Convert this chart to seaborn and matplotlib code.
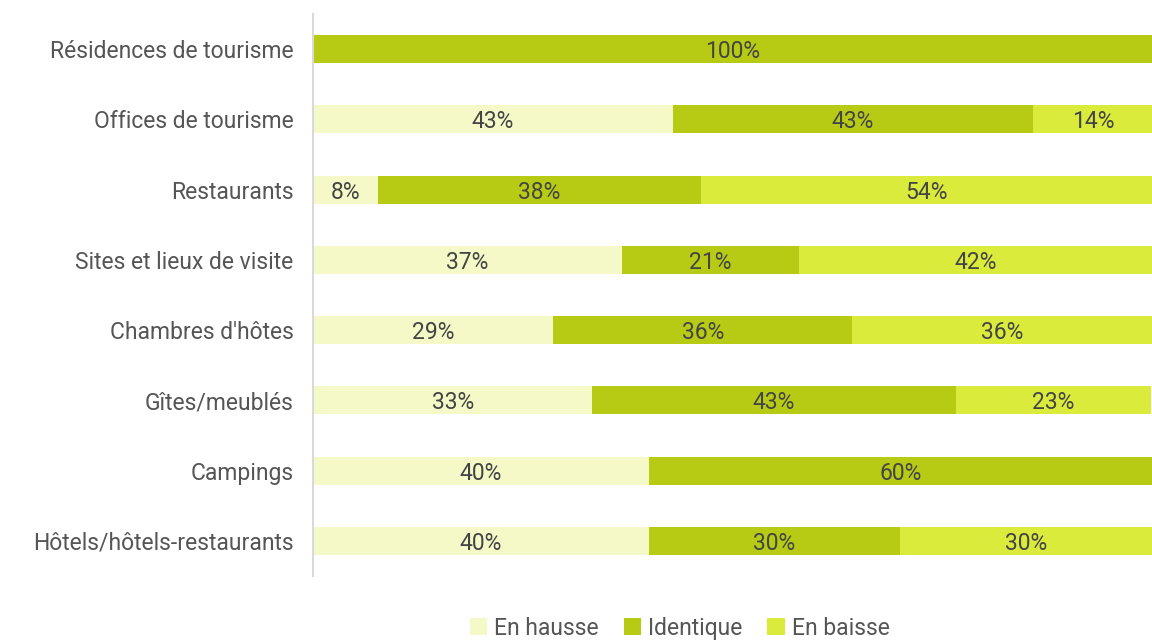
import numpy as np
import pandas as pd
import matplotlib
matplotlib.use("Agg")
import matplotlib.pyplot as plt
import seaborn as sns
from matplotlib.patches import Patch

# Data (percentages, top to bottom)
categories = ["Résidences de tourisme", "Offices de tourisme", "Restaurants",
              "Sites et lieux de visite", "Chambres d'hôtes", "Gîtes/meublés",
              "Campings", "Hôtels/hôtels-restaurants"]
en_hausse = [0, 42.9, 7.7, 36.8, 28.6, 33.3, 40, 40]
identique = [100, 42.9, 38.5, 21.1, 35.7, 43.3, 60, 30]
en_baisse = [0, 14.3, 53.8, 42.1, 35.7, 23.3, 0, 30]
series = ["En hausse", "Identique", "En baisse"]
colors = ["#f5f9c8", "#b8cb14", "#dbeb3b"]

df = pd.DataFrame({"cat": categories, "En hausse": en_hausse,
                   "Identique": identique, "En baisse": en_baisse})
df["c1"] = df["En hausse"]
df["c2"] = df["c1"] + df["Identique"]
df["c3"] = df["c2"] + df["En baisse"]

sns.set_style("white")
plt.rcParams["font.family"] = ["Roboto", "DejaVu Sans"]
txt = "#555555"
fs = 16.5

fig = plt.figure(figsize=(11.52, 6.41), dpi=100)
ax = fig.add_axes([313 / 1152, 1 - 576 / 641, 1 - 313 / 1152, (576 - 14) / 641])

# stacked bars: draw cumulative totals back to front
for col, color in zip(["c3", "c2", "c1"], colors[::-1]):
    sns.barplot(data=df, y="cat", x=col, color=color, width=0.4,
                saturation=1, ax=ax, order=categories, linewidth=0)

# segment labels
for i, row in df.iterrows():
    start = 0
    for s in series:
        v = row[s]
        if v > 0:
            ax.text(start + v / 2, i, f"{round(v):.0f}%", ha="center",
                    va="center_baseline", fontsize=fs, color="#444444")
        start += v

ax.set_xlim(0, 100)
ax.set_ylim(7.5, -0.5)
ax.set_xlabel("")
ax.set_ylabel("")
ax.set_xticks([])
for sp in ["top", "right", "bottom"]:
    ax.spines[sp].set_visible(False)
ax.spines["left"].set_color("#d9d9d9")
ax.spines["left"].set_linewidth(1.5)
ax.tick_params(axis="y", length=0, pad=14, labelsize=fs, labelcolor=txt)

handles = [Patch(facecolor=c, edgecolor="none") for c in colors]
fig.legend(handles, series, loc="center", bbox_to_anchor=(0.59, 0.02), ncol=3,
           frameon=False, fontsize=fs, labelcolor=txt, handlelength=0.75,
           handleheight=0.75, handletextpad=0.3, columnspacing=1.1)

fig.savefig("out.png", dpi=100)
